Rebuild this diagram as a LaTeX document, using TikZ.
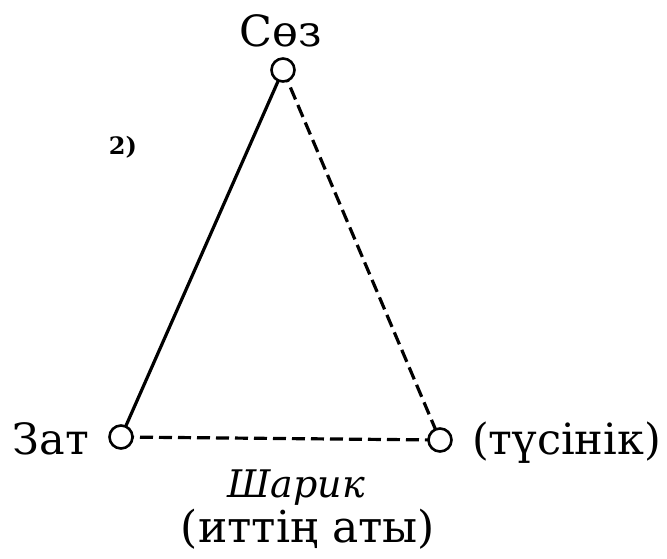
\documentclass[tikz,border=0pt]{standalone}
\usepackage{fontspec}
\setmainfont{DejaVu Serif}
\begin{document}
\begin{tikzpicture}[x=1pt,y=-1pt,
  vtx/.style={circle,draw,line width=2.6pt,fill=white,minimum size=23pt,inner sep=0pt},
  lbl/.style={font=\fontsize{43}{47}\selectfont,inner sep=0pt},
  sub/.style={font=\fontsize{38}{42}\selectfont,inner sep=0pt},
  solidedge/.style={line width=3.2pt},
  dashedge/.style={line width=3.2pt,dash pattern=on 13pt off 6pt}]
\useasboundingbox (0,0) rectangle (667,559);
\coordinate (T) at (283,70);
\coordinate (L) at (121,437);
\coordinate (R) at (440,440);
\draw[solidedge] (T) -- (L);
\draw[dashedge] (T) -- (R);
\draw[dashedge] (L) -- (R);
\node[vtx] (t) at (T) {};
\node[vtx] (l) at (L) {};
\node[vtx] (r) at (R) {};
\node[lbl,anchor=base] (sz) at (281,47) {Сөз};
\node[lbl,anchor=base east] (zt) at (89,454) {Зат};
\node[lbl,anchor=base west] (ts) at (472,454) {(түсінік)};
\node[sub,anchor=base] (sh) at (296,497) {\itshape Шарик};
\node[lbl,anchor=base,font=\fontsize{44}{48}\selectfont] (it) at (308,542) {(иттің аты)};
\node[font=\fontsize{24}{26}\selectfont\bfseries,inner sep=0pt,anchor=base] (n2) at (123,155) {2)};
\end{tikzpicture}
\end{document}
